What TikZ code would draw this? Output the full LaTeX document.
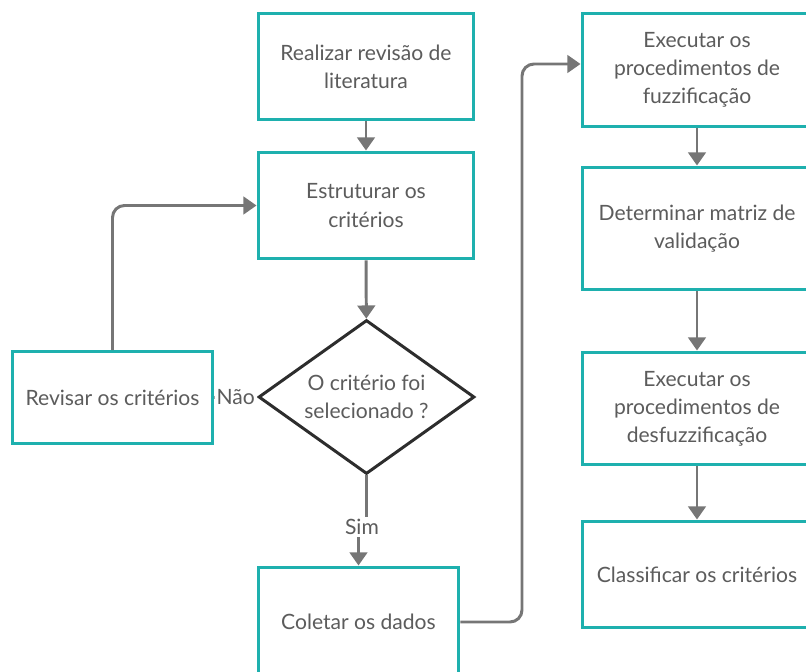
\documentclass[tikz,border=0pt]{standalone}
\usepackage{fontspec}
\setmainfont{Lato}
\usepackage{tikz}
\usepackage{xcolor}
\usetikzlibrary{shapes.geometric}
\usetikzlibrary{arrows.meta}
\usetikzlibrary{positioning}

\definecolor{boxteal}{RGB}{30,176,174}
\definecolor{flowgrey}{RGB}{118,118,118}
\definecolor{textgrey}{RGB}{92,92,92}
\definecolor{diagrey}{RGB}{45,45,45}

\begin{document}
\begin{tikzpicture}[x=0.02cm, y=-0.02cm,
    every node/.style={font=\fontsize{12}{16}\selectfont, text=textgrey, align=center},
    stepbox/.style={draw=boxteal, line width=1.7pt, fill=white, inner sep=0pt},
    decision/.style={diamond, draw=diagrey, line width=1.7pt, inner sep=0pt, aspect=1.4,
        minimum width=216*0.2mm, minimum height=154*0.2mm},
    flow/.style={draw=flowgrey, line width=1.7pt, -{Triangle[width=10pt,length=7.5pt]}},
    plainflow/.style={draw=flowgrey, line width=1.7pt},
    lbl/.style={fill=white, inner sep=1pt}]
    \clip (0,0) rectangle (806,672);
    \useasboundingbox (0,0) rectangle (806,672);
    % left column
    \node[stepbox, minimum width=216*0.2mm, minimum height=107*0.2mm] (rev) at (366,66.5) {Realizar revisão de\\literatura};
    \node[stepbox, minimum width=216*0.2mm, minimum height=107*0.2mm] (est) at (366,205.5) {Estruturar os\\critérios};
    \node[decision] (dec) at (366.5,397) {O critério foi\\selecionado ?};
    \node[stepbox, minimum width=201*0.2mm, minimum height=92*0.2mm] (revis) at (112.5,397.5) {Revisar os critérios};
    \node[stepbox, minimum width=201*0.2mm, minimum height=110*0.2mm] (col) at (358.5,622) {Coletar os dados};
    \node[lbl] (sim) at (362,527) {Sim};
    % right column
    \node[stepbox, minimum width=230*0.2mm, minimum height=114*0.2mm] (fuz) at (697,70) {Executar os\\procedimentos de\\fuzzificação};
    \node[stepbox, minimum width=230*0.2mm, minimum height=123*0.2mm] (mat) at (697,228.5) {Determinar matriz de\\validação};
    \node[stepbox, minimum width=230*0.2mm, minimum height=113*0.2mm] (desf) at (697,408.5) {Executar os\\procedimentos de\\desfuzzificação};
    \node[stepbox, minimum width=230*0.2mm, minimum height=107*0.2mm] (cla) at (697,574.5) {Classificar os critérios};
    % connectors
    \draw[flow] (rev) -- (est);
    \draw[flow] (est) -- (dec);
    \draw[plainflow] (dec.west) -- node[lbl] {Não} (revis.east);
    \draw[flow, rounded corners=2.4mm] (revis.north) |- (est.west);
    \draw[plainflow] (dec.south) -- (dec.south |- sim.north);
    \draw[flow] (col.north |- sim.south) -- (col.north);
    \draw[flow, rounded corners=2.4mm] (col.east) -| (522,340) |- ([yshift=1.2mm]fuz.west);
    \draw[flow] (fuz) -- (mat);
    \draw[flow] (mat) -- (desf);
    \draw[flow] (desf) -- (cla);
\end{tikzpicture}
\end{document}
